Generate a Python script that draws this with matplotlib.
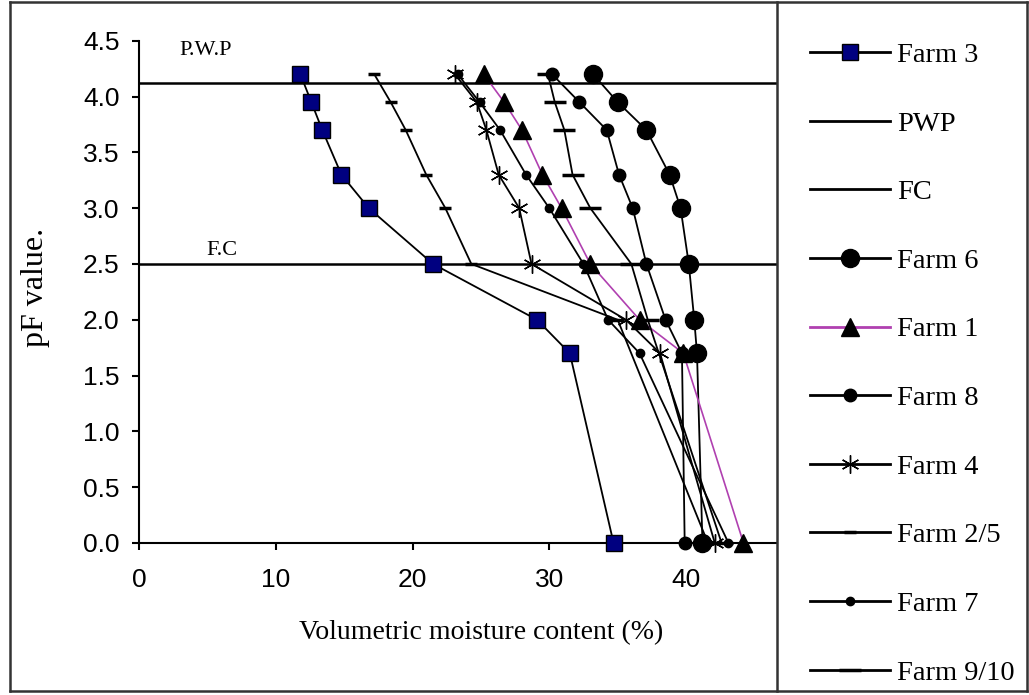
import matplotlib
matplotlib.use('Agg')
import matplotlib.pyplot as plt
import numpy as np
from matplotlib.lines import Line2D

# ---- data ----
pf_levels = [4.2, 3.95, 3.7, 3.3, 3.0, 2.5, 2.0, 1.7, 0.0]
pf_levels_short = [4.2, 3.95, 3.7, 3.3, 3.0, 2.5, 2.0, 0.0]

farm3 = [11.8, 12.6, 13.4, 14.8, 16.8, 21.5, 29.1, 31.5, 34.7]
farm6 = [33.2, 35.0, 37.1, 38.8, 39.6, 40.2, 40.6, 40.8, 41.2]
farm1 = [25.2, 26.7, 28.0, 29.5, 30.9, 33.0, 36.6, 39.8, 44.2]
farm8 = [30.2, 32.2, 34.2, 35.1, 36.1, 37.1, 38.5, 39.7, 39.9]
farm4 = [23.1, 24.7, 25.4, 26.3, 27.8, 28.7, 35.6, 38.1, 42.1]
farm25 = [17.2, 18.4, 19.5, 21.0, 22.4, 24.3, 35.0, 41.6]
farm7 = [23.3, 24.9, 26.4, 28.3, 30.0, 32.5, 34.3, 36.6, 43.1]
farm910 = [29.9, 30.4, 31.1, 31.7, 33.0, 36.0, 37.2, 42.6]

pwp_value = 4.12
fc_value = 2.5
x_ticks = [0, 10, 20, 30, 40]
y_ticks = [0.0, 0.5, 1.0, 1.5, 2.0, 2.5, 3.0, 3.5, 4.0, 4.5]

SERIF = ['Liberation Serif', 'DejaVu Serif']
SANS = ['Liberation Sans', 'DejaVu Sans']

fig = plt.figure(figsize=(10.29, 6.95), dpi=100)
ax = fig.add_axes([139/1029, 1-543/695, (777-139)/1029, (543-40.7)/695])

common = dict(color='black', lw=1.3, clip_on=False)
h3, = ax.plot(farm3, pf_levels, marker='s', ms=12, mfc='#000080', mec='black', mew=1, zorder=5, **common)
hp = ax.axhline(pwp_value, color='black', lw=1.8, zorder=2)
hf = ax.axhline(fc_value, color='black', lw=1.8, zorder=2)
h6, = ax.plot(farm6, pf_levels, marker='o', ms=13, mfc='black', mec='black', zorder=4, **common)
h1, = ax.plot(farm1, pf_levels, marker='^', ms=13, mfc='black', mec='black', zorder=4,
              color='#B040B0', lw=1.2, clip_on=False)
h8, = ax.plot(farm8, pf_levels, marker='o', ms=9, mfc='black', mec='black', zorder=4, **common)
h4, = ax.plot(farm4, pf_levels, marker=(6, 2, 0), ms=13, mec='black', mew=1.0, zorder=4, **common)
h25, = ax.plot(farm25, pf_levels_short, marker='_', ms=8, mew=2.5, mec='black', zorder=4, **common)
h7, = ax.plot(farm7, pf_levels, marker='o', ms=6, mfc='black', mec='black', zorder=4, **common)
h910, = ax.plot(farm910, pf_levels_short, marker='_', ms=16, mew=2.5, mec='black', zorder=4, **common)

ax.set_xlim(0, 46.65)
ax.set_ylim(0, 4.5)
ax.set_xticks(x_ticks)
ax.set_yticks(y_ticks)
ax.set_yticklabels([f'{v:.1f}' for v in y_ticks])
for s in ['top', 'right']:
    ax.spines[s].set_visible(False)
for s in ['left', 'bottom']:
    ax.spines[s].set_linewidth(1.5)
ax.tick_params(direction='out', length=5, width=1.5, labelsize=19)
ax.tick_params(axis='y', pad=9)
ax.tick_params(axis='x', pad=13)
for lab in ax.get_xticklabels() + ax.get_yticklabels():
    lab.set_family(SANS)

ax.text(4.9, 4.41, 'P.W.P', family=SERIF, fontsize=16, ha='center', va='center')
ax.text(6.1, 2.62, 'F.C', family=SERIF, fontsize=16, ha='center', va='center')

fig.text(481/1029, 1-633/695, 'Volumetric moisture content (%)', family=SERIF, fontsize=20,
         ha='center', va='center')
fig.text(36/1029, 1-287/695, 'pF value.', family=SERIF, fontsize=23, rotation=90,
         ha='center', va='center')

handles = [h3, hp, hf, h6, h1, h8, h4, h25, h7, h910]
labels = ['Farm 3', 'PWP', 'FC', 'Farm 6', 'Farm 1', 'Farm 8', 'Farm 4', 'Farm 2/5', 'Farm 7', 'Farm 9/10']
leg = fig.legend(handles, labels, loc='upper left', bbox_to_anchor=(810/1029, 1-42/695),
                 frameon=False, prop={'family': SERIF, 'size': 20.5}, handlelength=2.8,
                 labelspacing=1.5, handletextpad=0.25, borderaxespad=0, borderpad=0)
for ln in leg.get_lines():
    ln.set_linewidth(2.0)

# frame around figure and legend divider
fc = '#333333'
for (xs, ys) in [([10, 10], [2, 691]), ([10, 1027], [691, 691]), ([1027, 1027], [2, 691]),
                 ([10, 1027], [2, 2]), ([777, 777], [2, 691])]:
    fig.add_artist(Line2D([x/1029 for x in xs], [1-y/695 for y in ys], transform=fig.transFigure,
                          color=fc, lw=1.8))

fig.savefig('out.png', dpi=100)
